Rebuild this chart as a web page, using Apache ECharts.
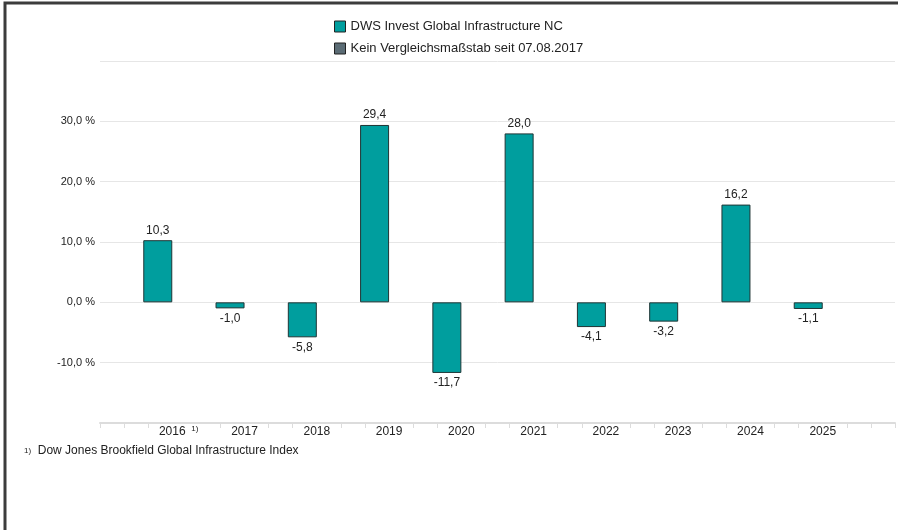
<!DOCTYPE html>
<html>
<head>
<meta charset="utf-8">
<script src="https://cdn.jsdelivr.net/npm/echarts@6/dist/echarts.min.js"></script>
<style>
html,body{margin:0;padding:0;background:#fff;}
#c{width:898px;height:530px;}
</style>
</head>
<body>
<div id="c"></div>
<script>
const years = ['2016','2017','2018','2019','2020','2021','2022','2023','2024','2025'];
const fundValues = [10.3, -1.0, -5.8, 29.4, -11.7, 28.0, -4.1, -3.2, 16.2, -1.1];
const benchValues = [null, null, null, null, null, null, null, null, null, null];
const yTicks = [-20, -10, 0, 10, 20, 30, 40];
const seriesNames = ['DWS Invest Global Infrastructure NC', 'Kein Vergleichsmaßstab seit 07.08.2017'];
const footnote = 'Dow Jones Brookfield Global Infrastructure Index';

const cats = [''].concat(years, ['']);
const pad = a => [null].concat(a, [null]);
const fineTicks = [];
for (let i = 0; i <= (cats.length - 1) * 3; i++) fineTicks.push('');

const FONT = 'Liberation Sans, Arial, sans-serif';
const fmt = v => v.toFixed(1).replace('.', ',');

const chart = echarts.init(document.getElementById('c'));
chart.setOption({
  animation: false,
  textStyle: {fontFamily: FONT},
  legend: {
    orient: 'vertical', left: 329, top: 15,
    itemWidth: 11, itemHeight: 11, itemGap: 9,
    textStyle: {fontFamily: FONT, fontSize: 13, color: '#222'},
    data: [
      {name: seriesNames[0], icon: 'rect', itemStyle: {color: '#009e9e', borderColor: '#222', borderWidth: 1}},
      {name: seriesNames[1], icon: 'rect', itemStyle: {color: '#5b6c75', borderColor: '#222', borderWidth: 1}}
    ]
  },
  grid: {left: 100, right: 3, top: 61, bottom: 107, containLabel: false},
  xAxis: [{
    type: 'category', data: cats, boundaryGap: false,
    axisLine: {show: false, onZero: false},
    axisTick: {show: false},
    axisLabel: {
      margin: 3, fontSize: 12, color: '#222', fontFamily: FONT,
      interval: 0
    },
    splitLine: {show: false}
  }, {
    type: 'category', data: fineTicks, boundaryGap: false, position: 'bottom',
    axisLine: {show: true, onZero: false, lineStyle: {color: '#dcdcdc', width: 2}},
    axisTick: {show: true, length: 5, lineStyle: {color: '#dcdcdc', width: 1},
      interval: (i) => (i % 3 !== 0 || i === 0 || i === fineTicks.length - 1) && i !== 4},
    axisLabel: {show: false},
    splitLine: {show: false}
  }],
  yAxis: {
    type: 'value', min: yTicks[0], max: yTicks[yTicks.length - 1], interval: 10,
    axisLine: {show: false}, axisTick: {show: false},
    axisLabel: {
      fontSize: 11, color: '#222', fontFamily: FONT, margin: 5,
      formatter: v => (v === yTicks[0] || v === yTicks[yTicks.length - 1]) ? '' : fmt(v) + ' %'
    },
    splitLine: {lineStyle: {color: '#e6e6e6', width: 1}}
  },
  series: [{
    name: seriesNames[0], type: 'bar', xAxisIndex: 0,
    data: pad(fundValues).map(v => v === null ? null : (v < 0 ? {value: v, label: {position: 'bottom'}} : v)),
    barWidth: 29, barGap: '0%',
    itemStyle: {color: '#009e9e', borderColor: '#1f3535', borderWidth: 1},
    label: {
      show: true, fontSize: 12, color: '#222', fontFamily: FONT, distance: 4,
      position: 'top',
      formatter: p => fmt(p.value)
    }
  }, {
    name: seriesNames[1], type: 'bar', xAxisIndex: 0,
    data: pad(benchValues),
    barWidth: 29,
    itemStyle: {color: '#5b6c75'}
  }],
  graphic: [{
    type: 'polyline', silent: true,
    shape: {points: [[5, 530], [5, 3], [898, 3]]},
    style: {stroke: '#3c3c3c', lineWidth: 3, fill: null}
  }, {
    type: 'text', left: 24, top: 445, silent: true,
    style: {text: '{s|1)}  ' + footnote, fill: '#222', font: '11px ' + FONT,
      rich: {s: {fontSize: 8, fill: '#222'}}}
  }]
});
// footnote marker next to the first year label, positioned via the axis
const p2016 = chart.convertToPixel({xAxisIndex: 0}, years[0]);
chart.setOption({graphic: [{}, {}, {
  type: 'text', x: p2016 + 19, y: 425, silent: true,
  style: {text: '1)', fill: '#222', font: '8px ' + FONT}
}]});
</script>
</body>
</html>
